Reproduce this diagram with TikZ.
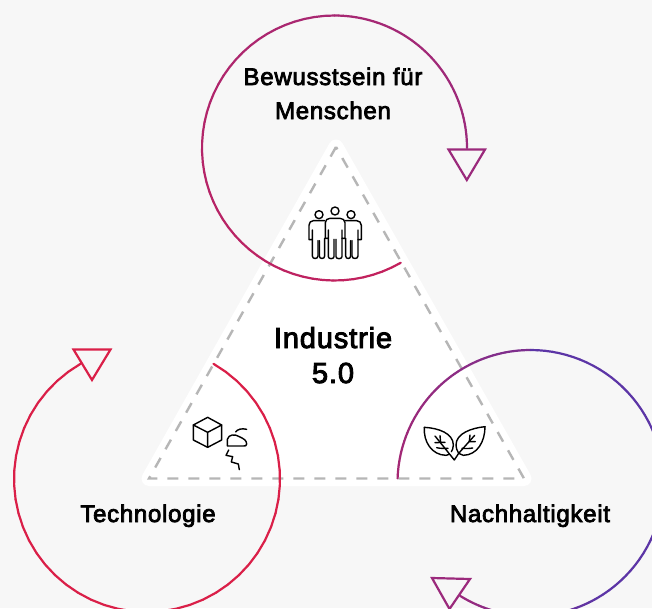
\documentclass[tikz,border=0pt]{standalone}
\usepackage{fontspec}
\setmainfont[FakeBold=3.2,LetterSpace=3]{Liberation Sans}
\definecolor{bgc}{HTML}{F7F7F7}
\definecolor{plum}{HTML}{9B2A7C}
\definecolor{rosered}{HTML}{C4215C}
\definecolor{crim}{HTML}{DA1F48}
\definecolor{violet}{HTML}{5C35A6}
\definecolor{dashc}{HTML}{B6B6B6}
\newcommand{\gradarc}[7]{% cx cy r a0 a1 col0 col1 (screen angles, clockwise positive)
  \foreach \i in {1,...,48}{
    \pgfmathsetmacro{\aa}{#4+(\i-1)*(#5-(#4))/48}
    \pgfmathsetmacro{\ab}{#4+(\i)*(#5-(#4))/48}
    \pgfmathtruncatemacro{\pc}{100*(\i-0.5)/48}
    \draw[line width=2.2pt,line cap=round,color=#7!\pc!#6]
      ({#1+#3*cos(\aa)},{#2+#3*sin(\aa)}) -- ({#1+#3*cos(\ab)},{#2+#3*sin(\ab)});
  }
}
\tikzset{
  headtip/.style={line width=2.2pt,fill=bgc,line join=miter},
  icon/.style={line width=1.4pt,black,line join=round,line cap=round},
  label/.style={font=\fontsize{24pt}{28pt}\selectfont,text=black,inner sep=0pt,anchor=base},
  biglabel/.style={font=\fontsize{29pt}{34pt}\selectfont,text=black,inner sep=0pt,anchor=base}
}
\begin{document}
\begin{tikzpicture}[x=1pt,y=-1pt]
\clip (0,0) rectangle (652,608);
\fill[bgc] (0,0) rectangle (652,608);
% triangle
\coordinate (apex) at (336,147);
\coordinate (bl) at (149,478.5);
\coordinate (br) at (524,478.5);
\draw[white,fill=white,line width=15pt,line join=round] (apex) -- (bl) -- (br) -- cycle;
\draw[dashc,line width=2.4pt,dash pattern=on 11pt off 10pt] (apex) -- (bl) -- (br) -- cycle;
% arcs
\gradarc{334.5}{148}{132.5}{0}{-90}{plum}{plum!70!rosered}
\gradarc{334.5}{148}{132.5}{-90}{-300}{plum!70!rosered}{rosered}
\gradarc{147}{479}{133}{-60}{240}{crim}{crim}
\gradarc{530.5}{483}{133}{182}{270}{plum!70!rosered}{violet}
\gradarc{530.5}{483}{133}{270}{420}{violet}{violet}
\gradarc{530.5}{483}{133}{420}{482}{violet}{plum}
% heads
\draw[headtip,draw=plum] (448.5,149.5) -- (485,149.5) -- (466.8,180) -- cycle;
\draw[headtip,draw=crim] (73.5,349.5) -- (110.5,349.5) -- (92,380) -- cycle;
\draw[headtip,draw=plum] (432,578) -- (470,579) -- (449.5,609) -- cycle;
% labels
\node[label] (t1) at (333,85) {Bewusstsein für};
\node[label] (t2) at (333,119) {Menschen};
\node[biglabel] (t3) at (333,348) {Industrie};
\node[biglabel] (t4) at (333,383) {5.0};
\node[label] (t5) at (148,522) {Technologie};
\node[label] (t6) at (530,522) {Nachhaltigkeit};
% people icon
\begin{scope}[shift={(280,130)},x=0.3333pt,y=-0.3333pt,icon]
 \draw (165,243) circle[radius=12];
 \draw (117,254) circle[radius=12];
 \draw (213,254) circle[radius=12];
 \draw (145,300) -- (145,325) -- (136,325) -- (136,278) .. controls (136,270) and (142,265) .. (150,265) -- (180,265) .. controls (188,265) and (195,270) .. (195,278) -- (195,325) -- (186,325) -- (186,300);
 \draw (145,325) -- (145,380) .. controls (145,388) and (162,388) .. (162,380) -- (162,328);
 \draw (186,325) -- (186,380) .. controls (186,388) and (168,388) .. (168,380) -- (168,328);
 \draw (134,272) -- (100,272) .. controls (92,272) and (87,278) .. (87,286) -- (87,329) -- (97,329) -- (97,300);
 \draw (97,329) -- (97,378) .. controls (97,388) and (114,388) .. (114,378) -- (114,332);
 \draw (134,325) -- (134,378) .. controls (134,388) and (118,388) .. (118,378) -- (118,332);
 \draw (196,272) -- (230,272) .. controls (238,272) and (244,278) .. (244,286) -- (244,329) -- (234,329) -- (234,300);
 \draw (234,329) -- (234,378) .. controls (234,388) and (216,388) .. (216,378) -- (216,332);
 \draw (197,325) -- (197,378) .. controls (197,388) and (212,388) .. (212,378) -- (212,332);
\end{scope}
% cube & head icon
\begin{scope}[shift={(130,360)},x=0.3333pt,y=-0.3333pt,icon]
 \draw (233,172) -- (275,195) -- (275,240) -- (233,262) -- (190,240) -- (190,195) -- cycle;
 \draw (190,195) -- (233,217) -- (275,195) (233,217) -- (233,262);
 \draw (292,258) -- (292,238) .. controls (296,222) and (316,222) .. (328,230) .. controls (340,236) and (350,240) .. (350,252) .. controls (350,258) and (346,258) .. (340,258) -- cycle;
 \draw (317,216) .. controls (322,208) and (335,204) .. (350,208);
 \draw (296,270) -- (288,286) -- (308,290) -- (304,306) -- (325,312) -- (328,329);
\end{scope}
% leaves icon
\begin{scope}[shift={(390,400)},x=0.3333pt,y=-0.3333pt,icon]
 \draw (103,82) .. controls (145,84) and (190,100) .. (190,135) .. controls (190,145) and (187,150) .. (184,155);
 \draw (103,82) .. controls (100,125) and (125,165) .. (168,166) -- (178,163);
 \draw (135,108) -- (193,180) -- (206,160);
 \draw (150,107) -- (152,128) (165,127) -- (135,128) (140,143) .. controls (150,146) and (165,145) .. (174,145);
 \draw (285,80) .. controls (245,84) and (198,100) .. (198,135) .. controls (198,145) and (201,150) .. (205,158);
 \draw (285,80) .. controls (285,125) and (262,165) .. (220,166) -- (206,160);
 \draw (254,106) -- (206,160);
 \draw (240,105) -- (238,125) -- (256,125) (248,144) .. controls (238,146) and (224,146) .. (216,145);
\end{scope}
\end{tikzpicture}
\end{document}
